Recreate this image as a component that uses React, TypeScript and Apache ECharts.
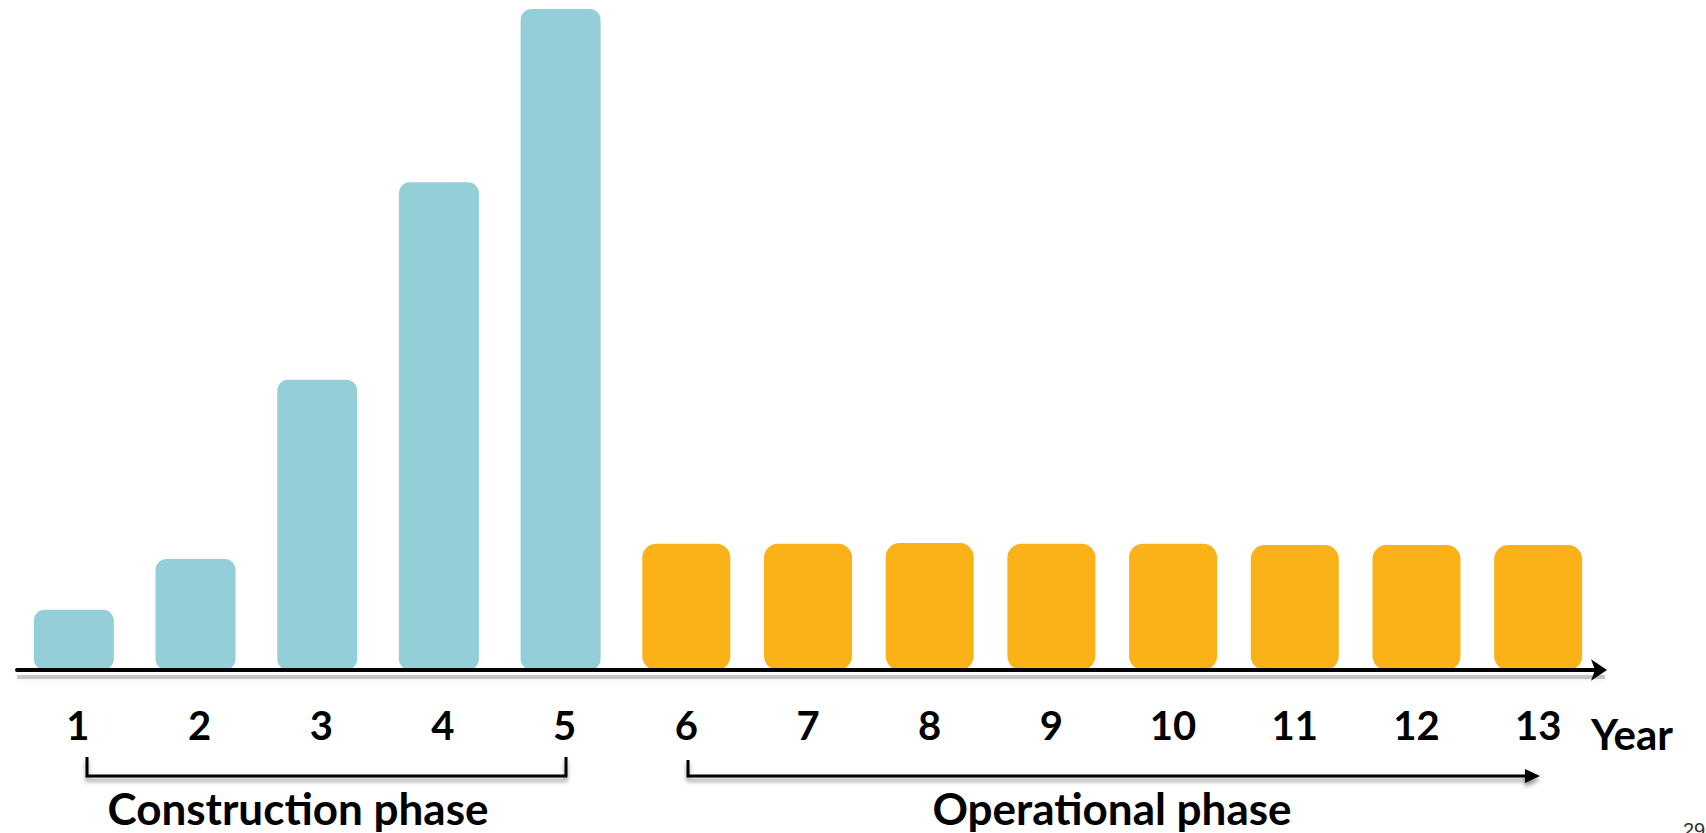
import React, { useEffect, useRef } from "react";
import * as echarts from "echarts";

// Years along the horizontal axis
const years = ["1", "2", "3", "4", "5", "6", "7", "8", "9", "10", "11", "12", "13"];

// Annual cash outflow (relative units, peak year = 100)
const constructionCost = [9.1, 16.8, 43.9, 73.8, 100, null, null, null, null, null, null, null, null];
const operationalCost = [null, null, null, null, null, 19.1, 19.1, 19.2, 19.1, 19.1, 18.9, 18.9, 18.9];

const phaseNames = ["Construction phase", "Operational phase"];
const axisTitle = "Year";
const slideNumber = "29";

const TEAL = "#94CFD7";
const AMBER = "#FAB218";
const FONT = "Lato, 'Open Sans', sans-serif";

const lineShadow = {
  shadowColor: "rgba(0,0,0,0.4)",
  shadowBlur: 4,
  shadowOffsetY: 4,
};

export default function App() {
  const ref = useRef<HTMLDivElement>(null);

  useEffect(() => {
    if (!ref.current) return;
    const chart = echarts.init(ref.current, null, { renderer: "svg" });

    chart.setOption({
      animation: false,
      backgroundColor: "#ffffff",
      grid: { left: 17, right: 107, top: 9, bottom: 163, containLabel: false },
      xAxis: {
        type: "category",
        data: years,
        offset: 3,
        z: 3,
        axisLine: {
          show: true,
          symbol: ["none", "arrow"],
          symbolSize: [16, 16],
          symbolOffset: [0, 8],
          lineStyle: { color: "#000", width: 4 },
        },
        axisTick: { show: false },
        axisLabel: {
          color: "#000",
          fontFamily: FONT,
          fontWeight: "bold",
          fontSize: 40,
          margin: 32,
        },
        name: axisTitle,
        nameLocation: "end",
        nameGap: -8,
        nameTextStyle: {
          color: "#000",
          fontFamily: FONT,
          fontWeight: "bold",
          fontSize: 42,
          align: "left",
          verticalAlign: "top",
          padding: [43, 0, 0, 0],
        },
      },
      yAxis: {
        type: "value",
        min: 0,
        max: 100,
        show: false,
        splitLine: { show: false },
      },
      series: [
        {
          name: phaseNames[0],
          type: "bar",
          data: constructionCost,
          barWidth: 80,
          barGap: "-100%",
          itemStyle: { color: TEAL, borderRadius: 11 },
        },
        {
          name: phaseNames[1],
          type: "bar",
          data: operationalCost,
          barWidth: 88,
          barGap: "-100%",
          itemStyle: { color: AMBER, borderRadius: 14 },
        },
      ],
      graphic: [
        // soft shadow under the time axis
        {
          type: "rect",
          z: 1,
          shape: { x: 17, y: 675, width: 1588, height: 4 },
          style: { fill: "rgba(0,0,0,0.2)", shadowColor: "rgba(0,0,0,0.3)", shadowBlur: 4, shadowOffsetY: 1 },
        },
        // bracket under the construction years
        {
          type: "polyline",
          shape: { points: [[87, 757], [87, 776], [566, 776], [566, 757]] },
          style: { stroke: "#000", lineWidth: 3, fill: null, ...lineShadow },
        },
        // open-ended arrow under the operational years
        {
          type: "polyline",
          shape: { points: [[688, 760], [688, 776], [1528, 776]] },
          style: { stroke: "#000", lineWidth: 3, fill: null, ...lineShadow },
        },
        {
          type: "polygon",
          shape: { points: [[1525, 769], [1540, 776], [1525, 783]] },
          style: { fill: "#000", ...lineShadow },
        },
        {
          type: "text",
          x: 298,
          y: 808,
          style: {
            text: phaseNames[0],
            fill: "#000",
            font: `bold 44px ${FONT}`,
            align: "center",
            verticalAlign: "middle",
          },
        },
        {
          type: "text",
          x: 1112,
          y: 808,
          style: {
            text: phaseNames[1],
            fill: "#000",
            font: `bold 44px ${FONT}`,
            align: "center",
            verticalAlign: "middle",
          },
        },
        {
          type: "text",
          x: 1683,
          y: 820,
          style: {
            text: slideNumber,
            fill: "#333",
            font: "20px 'Liberation Sans', Arial, sans-serif",
            align: "left",
            verticalAlign: "top",
          },
        },
      ],
    });

    return () => chart.dispose();
  }, []);

  return (
    <div
      ref={ref}
      style={{ position: "fixed", left: 0, top: 0, width: 1706, height: 833, background: "#fff" }}
    />
  );
}
